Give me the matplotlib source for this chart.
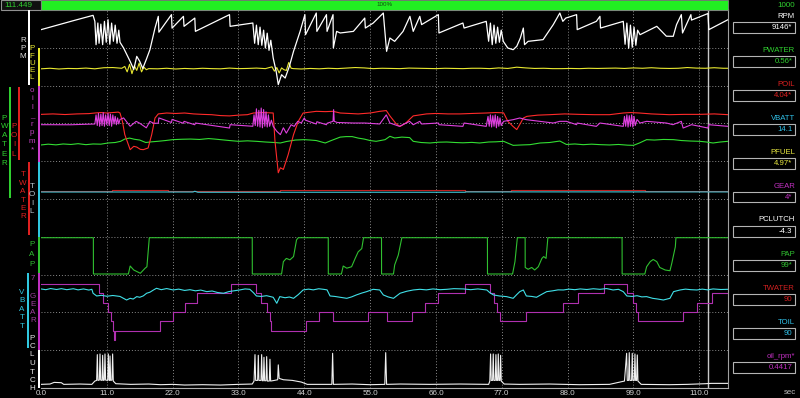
import matplotlib
matplotlib.use('Agg')
import matplotlib.pyplot as plt
from matplotlib.patches import Rectangle

plt.rcParams['font.family'] = ['Liberation Sans', 'DejaVu Sans']

W, H = 800, 398
AX_L, AX_R, AX_TOP, AX_BOT = 41, 728, 10, 388
T_END = 114.8
CURSOR = 111.449
TICKS = [0, 11, 22, 33, 44, 55, 66, 77, 88, 99, 110]

# ---- channel data (time in sec, value) ----
RPM = [(0, 7550), (2.0, 7880), (5.4, 8440), (8.7, 8970), (9.0, 8375), (9.2, 6060), (9.5, 8210),
       (9.7, 6200), (10.0, 8100), (10.3, 6060), (10.6, 8375), (10.9, 6300), (11.2, 8540),
       (11.5, 6100), (11.8, 8200), (12.1, 6400), (12.4, 8000), (12.7, 6200), (13.0, 7500),
       (13.2, 6300), (13.8, 5730), (14.9, 4400), (15.5, 3600), (16.0, 4900), (16.5, 4400),
       (17.0, 3700), (17.6, 4600), (18.2, 5560), (19.05, 7710), (19.6, 8870), (19.7, 7300),
       (21.8, 9040), (21.9, 7700), (23.8, 8870), (23.9, 7880), (25.7, 8700), (25.8, 7380),
       (31.5, 9040), (31.6, 7880), (35.4, 8210), (35.7, 6200), (36.0, 8000), (36.3, 6060),
       (36.6, 7800), (36.9, 6000), (37.2, 7500), (37.5, 5730), (37.8, 7200), (38.1, 5500),
       (38.4, 6500), (38.8, 4740), (39.3, 3400), (39.65, 2100), (40.2, 3080), (40.8, 2750),
       (41.5, 3910), (42.2, 5400), (43.3, 7380), (44.1, 9040), (44.2, 7050), (46.0, 9200),
       (46.1, 7380), (47.7, 9040), (47.8, 7380), (48.8, 9040), (48.85, 5730), (49.4, 7380),
       (50.0, 7220), (52.2, 7380), (54.1, 8700), (54.2, 7710), (55.5, 8200), (57.2, 9200),
       (57.75, 5400), (58.3, 6720), (59.1, 6390), (60.5, 7380), (61.65, 8870), (62.2, 7380),
       (63.3, 8870), (63.6, 8050), (66.4, 9040), (66.5, 7220), (70.5, 8210), (70.7, 7710),
       (74.4, 8375), (74.8, 6400), (75.1, 8200), (75.4, 6060), (75.7, 8000), (76.0, 6200),
       (76.3, 7800), (76.6, 6300), (76.9, 7500), (77.25, 6390), (78.0, 5730), (78.9, 5560),
       (79.5, 5900), (80.1, 6720), (80.6, 7710), (80.8, 6060), (81.4, 6390), (83.9, 6560),
       (85.6, 8050), (86.7, 9200), (87.2, 8375), (87.7, 8700), (89.5, 9040), (89.6, 7550),
       (92.8, 8375), (93.4, 8870), (93.5, 7710), (97.3, 8375), (97.6, 6100), (97.9, 8200),
       (98.2, 5700), (98.5, 8000), (98.8, 5800), (99.1, 7800), (99.4, 6000), (99.7, 7500),
       (100.1, 7050), (101.2, 7380), (102.9, 7880), (104.5, 6900), (105.65, 6890),
       (106.2, 8050), (107.0, 9040), (107.2, 7220), (108.6, 9040), (108.7, 8500),
       (111.45, 9150), (111.6, 7550), (114.8, 8540)]

PFUEL = [(0, 4.75), (1.5, 4.9), (3, 4.7), (4.5, 4.85), (6, 4.8), (7.5, 4.95), (9, 4.75),
         (10.5, 5.05), (12, 5.1), (13.5, 4.9), (14.0, 5.4), (14.4, 3.9), (14.8, 6.0), (15.2, 3.4),
         (15.6, 5.6), (16.0, 4.3), (16.4, 6.3), (16.8, 3.9), (17.2, 5.2), (17.6, 4.5), (18.0, 4.8),
         (19.5, 4.75), (21, 4.9), (22.5, 4.7), (24, 4.85), (25.5, 4.75), (27, 4.9), (28.5, 4.8),
         (30, 4.75), (31.5, 4.95), (33, 4.8), (34.5, 4.85), (36, 4.95), (37.5, 4.8), (38.6, 5.3),
         (39.0, 4.1), (39.4, 5.1), (39.8, 3.6), (40.2, 5.0), (40.6, 4.5), (41.0, 4.3), (41.4, 6.5),
         (41.8, 4.9), (42.2, 4.8), (43.5, 4.7), (45, 4.85), (46.5, 4.75), (48, 4.9), (49.5, 4.8),
         (51, 4.95), (52.5, 5.1), (54, 5.0), (55.5, 4.8), (57, 4.9), (58.5, 4.85), (60, 4.8),
         (61.5, 4.95), (63, 4.9), (64.5, 4.85), (66, 4.8), (67.5, 4.9), (69, 4.85), (70.5, 4.8),
         (72, 4.9), (73.5, 4.9), (75, 4.8), (76.5, 5.0), (78, 4.85), (79.5, 5.2), (81, 5.0),
         (82.5, 4.85), (84, 4.9), (85.5, 4.8), (87, 4.8), (88.5, 4.85), (90, 4.8), (91.5, 4.9),
         (93, 4.85), (94.5, 4.9), (96, 4.95), (97.5, 4.85), (99, 5.0), (100.5, 4.9), (102, 5.05),
         (103.5, 4.9), (105, 4.85), (106.5, 4.9), (108, 5.1), (109.5, 4.95), (111, 4.9),
         (112.5, 5.05), (114, 4.9), (114.8, 4.9)]

OIL_RPM = [(0, 0.491), (5, 0.49), (9, 0.50), (9.2, 0.62), (9.4, 0.48), (9.6, 0.64), (9.8, 0.47),
           (10.0, 0.63), (10.2, 0.48), (10.4, 0.65), (10.6, 0.47), (10.8, 0.62), (11.0, 0.49),
           (11.2, 0.64), (11.4, 0.48), (11.6, 0.63), (11.8, 0.47), (12.0, 0.62), (12.2, 0.50),
           (12.4, 0.60), (12.6, 0.49), (12.8, 0.58), (13.0, 0.50), (13.2, 0.56), (13.8, 0.58),
           (14.9, 0.47), (15.9, 0.535), (16.5, 0.51), (17.6, 0.45), (18.2, 0.535), (18.8, 0.51),
           (19.6, 0.51), (19.7, 0.58), (21.8, 0.52), (21.9, 0.56), (23.8, 0.51), (23.9, 0.535),
           (25.7, 0.49), (25.8, 0.513), (31.5, 0.447), (31.6, 0.491), (35.4, 0.47), (35.6, 0.62),
           (35.8, 0.48), (36.0, 0.70), (36.2, 0.47), (36.4, 0.68), (36.6, 0.46), (36.8, 0.71),
           (37.0, 0.45), (37.2, 0.69), (37.4, 0.47), (37.6, 0.66), (37.8, 0.46), (38.0, 0.62),
           (38.2, 0.47), (38.5, 0.55), (38.8, 0.469), (39.4, 0.404), (40.0, 0.36), (40.5, 0.45),
           (41.0, 0.38), (41.8, 0.49), (42.3, 0.469), (42.9, 0.535), (43.5, 0.513), (44.0, 0.579),
           (44.2, 0.55), (46.0, 0.50), (46.1, 0.53), (47.7, 0.49), (47.8, 0.51), (48.8, 0.535),
           (48.9, 0.689), (49.0, 0.535), (49.5, 0.52), (52.2, 0.513), (54.1, 0.513), (56.6, 0.50),
           (57.7, 0.62), (58.3, 0.513), (59.9, 0.469), (61.6, 0.535), (62.2, 0.49), (63.3, 0.535),
           (63.6, 0.50), (66.4, 0.513), (66.5, 0.491), (70.5, 0.469), (70.7, 0.513), (74.4, 0.469),
           (74.7, 0.60), (74.9, 0.47), (75.1, 0.62), (75.3, 0.46), (75.5, 0.61), (75.7, 0.47),
           (75.9, 0.62), (76.1, 0.45), (76.3, 0.60), (76.5, 0.47), (76.7, 0.58), (76.9, 0.48),
           (77.3, 0.535), (78.9, 0.557), (80.0, 0.579), (81.1, 0.557), (85.6, 0.513), (86.7, 0.535),
           (87.8, 0.535), (89.5, 0.491), (89.6, 0.513), (92.8, 0.469), (93.4, 0.513), (97.3, 0.469),
           (97.5, 0.60), (97.7, 0.47), (97.9, 0.62), (98.1, 0.46), (98.3, 0.61), (98.5, 0.47),
           (98.7, 0.62), (98.9, 0.46), (99.1, 0.60), (99.3, 0.48), (99.6, 0.56), (100.1, 0.513),
           (101.2, 0.535), (104.5, 0.513), (105.6, 0.491), (107.0, 0.535), (107.3, 0.447),
           (108.7, 0.491), (111.45, 0.447), (111.6, 0.491), (114.8, 0.469)]

POIL = [(0, 4.00), (2, 4.03), (4, 3.99), (6, 4.03), (8, 4.05), (9, 4.09), (10, 4.12), (11, 4.09),
        (12, 4.12), (12.9, 4.15), (13.2, 4.09), (13.6, 3.55), (14.0, 2.67), (14.9, 1.68),
        (15.5, 1.90), (16.0, 1.85), (16.6, 1.70), (17.1, 1.68), (17.9, 1.79), (18.5, 2.67),
        (19.05, 3.76), (19.6, 4.03), (21, 4.09), (22.5, 4.06), (24, 4.09), (25.5, 4.03), (27, 4.0),
        (28.5, 3.98), (30, 3.92), (31.5, 3.90), (33, 3.95), (34.5, 3.98), (35.5, 4.09), (37, 4.12),
        (38.8, 4.09), (39.1, 2.23), (39.65, 0.16), (40.0, 0.49), (40.5, 0.38), (41.3, 1.35),
        (42.2, 2.67), (43.0, 3.55), (43.8, 4.09), (45, 4.15), (46, 4.20), (47.5, 4.18), (48.8, 4.20),
        (50, 4.09), (51.5, 4.06), (53, 4.03), (55, 4.09), (56.6, 4.20), (57.7, 4.25), (58.3, 3.9),
        (59.3, 3.4), (60.0, 3.2), (61.0, 3.45), (62.2, 3.9), (64.4, 4.03), (66, 4.06), (68, 4.03),
        (70, 4.03), (72, 4.06), (74.4, 4.09), (76, 4.12), (77.3, 4.10), (78.0, 3.55), (78.9, 3.20),
        (79.5, 3.00), (80.1, 3.40), (80.6, 3.76), (81.2, 3.87), (83, 3.95), (85, 3.98),
        (87.5, 4.03), (90, 4.0), (92.5, 3.98), (95, 3.98), (97.3, 4.09), (98.5, 4.12), (100, 4.09),
        (102, 4.03), (105, 3.98), (107.5, 4.0), (110, 4.0), (112.5, 4.03), (114.8, 3.98)]

PWATER = [(0, 0.54), (1.2, 0.548), (2.5, 0.541), (3.7, 0.55), (5.0, 0.545), (6.2, 0.553),
          (7.5, 0.543), (8.7, 0.55), (10.0, 0.548), (11.2, 0.56), (12.4, 0.565), (13.3, 0.577),
          (14.0, 0.60), (14.8, 0.61), (15.6, 0.598), (16.5, 0.59), (17.5, 0.565), (18.5, 0.572),
          (19.5, 0.577), (20.8, 0.585), (22.0, 0.594), (23.5, 0.598), (25.0, 0.60), (26.5, 0.596),
          (28.0, 0.605), (29.0, 0.60), (30.0, 0.594), (31.5, 0.585), (33.0, 0.577), (34.5, 0.582),
          (36.0, 0.577), (37.5, 0.57), (39.0, 0.565), (40.0, 0.56), (41.0, 0.575), (42.5, 0.59),
          (44.0, 0.594), (45.0, 0.59), (46.0, 0.585), (47.5, 0.56), (48.5, 0.585), (50.0, 0.62),
          (51.0, 0.625), (52.0, 0.625), (53.0, 0.61), (54.0, 0.60), (55.0, 0.585), (56.0, 0.577),
          (57.5, 0.594), (58.3, 0.628), (59.1, 0.611), (60.3, 0.62), (61.6, 0.615), (62.2, 0.577),
          (63.5, 0.565), (65.0, 0.56), (66.4, 0.568), (67.8, 0.57), (69.2, 0.565), (70.5, 0.562),
          (72.0, 0.566), (73.3, 0.56), (74.8, 0.57), (76.0, 0.572), (77.3, 0.577), (78.9, 0.536),
          (80.3, 0.54), (81.7, 0.543), (83.4, 0.56), (85.0, 0.565), (86.7, 0.58), (87.8, 0.545),
          (89.2, 0.55), (90.6, 0.543), (92.0, 0.548), (93.5, 0.543), (95.0, 0.54), (96.5, 0.545),
          (98.0, 0.538), (99.0, 0.536), (100.0, 0.56), (101.2, 0.594), (102.5, 0.59), (104.0, 0.596),
          (105.7, 0.594), (107.0, 0.585), (108.5, 0.58), (110.1, 0.577), (111.2, 0.57),
          (112.3, 0.56), (113.5, 0.57), (114.8, 0.577)]

TWATER = [(0, 90), (11.8, 92.5), (21.3, 90), (40.0, 92.5), (70.9, 90), (78.5, 92.5), (101.0, 90),
          (114.8, 90)]
TOIL = [(0, 90), (25.4, 90), (25.7, 91.5), (26.2, 89.5), (70.9, 89.5), (71.0, 90.2), (114.8, 90.2)]

PAP = [(0, 100), (8.75, 100), (8.76, 0), (14.6, 0), (14.9, 22), (15.5, 11), (16.6, 2), (17.4, 16),
       (17.7, 20), (18.1, 100), (35.3, 100), (35.31, 0), (40.2, 0), (40.5, 34), (41.0, 43),
       (41.6, 39), (42.2, 48), (42.7, 94), (43.0, 100), (48.0, 100), (48.01, 0), (50.2, 0),
       (50.5, 22), (51.1, 16), (51.9, 20), (52.5, 43), (53.0, 61), (53.6, 70), (53.9, 100),
       (56.9, 100), (56.91, 0), (58.9, 0), (59.1, 25), (59.7, 52), (60.3, 100), (74.6, 100),
       (74.61, 0), (78.8, 0), (79.2, 34), (79.6, 100), (80.9, 100), (80.91, 18), (81.4, 13),
       (82.0, 18), (82.5, 11), (83.1, 20), (83.7, 43), (84.0, 48), (84.4, 43), (84.7, 100),
       (97.1, 100), (97.11, 0), (100.9, 0), (101.2, 20), (101.8, 34), (102.3, 40), (102.9, 34),
       (103.4, 18), (104.3, 11), (105.1, 9), (105.4, 29), (106.0, 75), (106.1, 100), (114.8, 100)]

VBATT = [(0, 14.30), (0.8, 14.22), (1.6, 14.34), (2.6, 14.24), (3.4, 14.33), (4.3, 14.22),
         (5.4, 14.32), (6.2, 14.20), (7.1, 14.30), (8.0, 14.18), (8.5, 14.26), (8.7, 13.84),
         (9.3, 13.55), (10.1, 13.62), (11.0, 13.52), (12.0, 13.60), (13.2, 13.50), (14.3, 13.12),
         (14.9, 13.30), (15.4, 13.22), (16.0, 13.48), (16.5, 13.41), (17.1, 13.56), (17.65, 13.84),
         (18.2, 13.95), (18.8, 14.19), (19.3, 14.37), (20.1, 14.22), (21.0, 14.34), (22.1, 14.19),
         (23.0, 14.28), (24.0, 14.14), (24.9, 14.22), (25.8, 14.10), (26.7, 14.18), (27.7, 14.01),
         (28.6, 14.08), (29.5, 13.92), (30.5, 13.84), (31.4, 14.02), (32.3, 14.10), (33.2, 14.19),
         (34.1, 14.30), (34.9, 14.26), (35.5, 13.90), (36.0, 13.55), (36.8, 13.50), (37.7, 13.58),
         (38.8, 13.41), (39.4, 12.77), (39.9, 13.48), (40.8, 13.36), (41.5, 13.44), (42.2, 13.30),
         (43.0, 13.70), (43.8, 14.19), (44.7, 14.28), (45.5, 14.20), (46.4, 14.32), (47.2, 14.26),
         (47.8, 14.20), (48.3, 13.55), (49.1, 13.50), (50.0, 13.41), (51.1, 13.30), (51.9, 13.45),
         (52.7, 13.66), (53.6, 13.86), (54.4, 14.01), (55.5, 14.26), (56.6, 14.19), (57.2, 13.66),
         (58.0, 13.45), (58.9, 13.30), (60.0, 13.84), (61.1, 14.05), (62.2, 14.19), (63.3, 14.26),
         (64.4, 14.20), (65.5, 14.30), (66.7, 14.22), (67.8, 14.26), (69.0, 14.33), (70.6, 14.30),
         (71.8, 14.22), (73.0, 14.30), (74.5, 14.19), (75.0, 13.90), (75.6, 13.66), (76.6, 13.55),
         (77.8, 13.48), (78.9, 13.30), (79.5, 13.70), (80.0, 14.01), (80.6, 14.19), (81.1, 13.55),
         (82.0, 13.50), (82.8, 13.41), (83.6, 13.70), (84.5, 14.01), (85.5, 14.10), (86.4, 14.20),
         (87.3, 14.19), (88.2, 14.28), (89.2, 14.22), (90.1, 14.30), (91.2, 14.24), (92.3, 14.32),
         (93.4, 14.26), (94.5, 14.34), (95.6, 14.19), (96.5, 14.26), (97.3, 14.01), (97.9, 13.55),
         (98.8, 13.50), (99.6, 13.58), (100.4, 13.45), (101.2, 13.48), (102.2, 13.30),
         (103.1, 13.22), (104.0, 13.12), (105.1, 13.30), (105.7, 14.01), (106.8, 14.19),
         (107.7, 14.28), (108.6, 14.22), (109.6, 14.19), (110.5, 14.28), (111.4, 14.20),
         (112.3, 14.30), (113.6, 14.24), (114.8, 14.26)]

GEAR = [(0, 6), (9.75, 5), (10.4, 4), (11.25, 3), (11.64, 2), (12.09, 1), (12.2, 0), (12.35, 1),
        (19.88, 2), (22.1, 3), (24.1, 4), (26.0, 5), (31.7, 6), (35.9, 5), (36.7, 4), (37.7, 3),
        (38.3, 2), (38.5, 1), (44.2, 2), (46.4, 3), (48.8, 2), (54.7, 3), (57.75, 2), (62.04, 3),
        (64.16, 4), (66.39, 5), (70.84, 6), (75.1, 5), (75.69, 4), (76.25, 3), (76.64, 2),
        (80.98, 3), (87.16, 4), (89.78, 5), (94.07, 6), (97.86, 5), (98.97, 4), (99.4, 3),
        (99.8, 2), (107.3, 3), (109.55, 4), (112.06, 5), (114.8, 5)]

PCLUTCH = [(0, -4), (1.5, -3), (2.2, 2), (3.4, 1), (3.8, -4), (6.5, -3), (8.5, -4), (9.0, 6),
           (9.3, 8), (9.41, 86), (9.52, 8), (9.75, 9), (9.86, 88), (9.97, 9), (10.2, 8), (10.3, 84),
           (10.41, 8), (10.58, 9), (10.69, 88), (10.8, 9), (11.14, 8), (11.25, 88), (11.36, 9),
           (11.45, 8), (11.53, 82), (11.64, 8), (11.86, 9), (11.97, 88), (12.08, 6), (12.5, -2),
           (15, -4), (18, -3), (20, -5), (22, -4), (24, -6), (27, -5), (30, -6), (33, -4),
           (35.3, -3), (35.6, 6), (35.76, 86), (35.87, 8), (36.2, 8), (36.31, 84), (36.42, 8),
           (36.76, 8), (36.87, 86), (36.98, 7), (37.15, 7), (37.26, 78), (37.37, 7), (37.6, 7),
           (37.71, 80), (37.82, 6), (38.15, 6), (38.26, 72), (38.37, 6), (39.0, 8), (39.55, 10),
           (39.65, 55), (39.8, 14), (40.5, 10), (42, 8), (43.5, 3), (44.5, -4), (48.6, -4),
           (48.73, 90), (48.86, -4), (52, -3), (55, -5), (57.45, -4), (57.6, 92), (57.75, -4),
           (60, -3), (65, -4), (70, -3), (74.8, -4), (75.0, 6), (75.13, 88), (75.24, 8),
           (75.46, 8), (75.57, 88), (75.68, 8), (75.91, 8), (76.02, 86), (76.13, 8), (76.3, 8),
           (76.41, 88), (76.52, 8), (76.69, 8), (76.8, 84), (76.91, 6), (77.4, -3), (80, -4),
           (85, -3), (90, -5), (95, -4), (97.5, 6), (97.86, 90), (97.97, 8), (98.19, 8),
           (98.3, 92), (98.41, 8), (98.69, 8), (98.8, 90), (98.91, 8), (99.14, 8), (99.25, 88),
           (99.36, 8), (99.53, 8), (99.64, 85), (99.75, 6), (100.3, -4), (105, -5), (108, -4),
           (111, -2), (112, -1), (114.8, -1)]

# right-hand readout at the cursor
READOUT = [('RPM', '#ffffff', '9146*'), ('PWATER', '#30d030', '0.56*'), ('POIL', '#e02020', '4.04*'),
           ('VBATT', '#30c0e8', '14.1'), ('PFUEL', '#e8e840', '4.97*'), ('GEAR', '#c030c0', '4*'),
           ('PCLUTCH', '#ffffff', '-4.3'), ('PAP', '#30c030', '99*'), ('TWATER', '#d02020', '90'),
           ('TOIL', '#30c0e8', '90'), ('oil_rpm*', '#c030c0', '0.4417')]

fig = plt.figure(figsize=(8, 3.98), dpi=100, facecolor='black')


def fx(px):
    return px / W


def fy(py):
    return 1 - py / H


RECT = [fx(AX_L), fy(AX_BOT), (AX_R - AX_L) / W, (AX_BOT - AX_TOP) / H]

ax = fig.add_axes(RECT)
ax.set_facecolor('black')
ax.set_xlim(0, T_END)
ax.set_ylim(0, 10)
for t in TICKS[1:]:
    ax.axvline(t, color='#8a8a8a', lw=0.7, ls=(0, (1, 2)))
for d in range(1, 10):
    ax.axhline(d, color='#8a8a8a', lw=0.7, ls=(0, (1, 2)))
ax.axvline(CURSOR, color='#c8c8c8', lw=1.0, zorder=50)
ax.set_yticks([])
ax.set_xticks(TICKS)
ax.set_xticklabels(['%.1f' % t for t in TICKS], color='#d0d0d0', fontsize=5.8)
ax.tick_params(axis='x', length=0, pad=1.5)
for s in ['left']:
    ax.spines[s].set_visible(False)
ax.spines['top'].set_color('#8c8c8c')
ax.spines['top'].set_linewidth(1.5)
ax.spines['right'].set_color('#a0a0a0')
ax.spines['bottom'].set_color('#b0b0b0')


def band_lim(vlo, vhi, top, bot):
    # vhi sits on pixel row top, vlo on row bot
    per = (vhi - vlo) / (bot - top)
    return vlo - (AX_BOT - bot) * per, vhi + (top - AX_TOP) * per


def channel(pairs, vlo, vhi, top, bot, color, lw=0.8, step=False):
    a = fig.add_axes(RECT, sharex=ax)
    a.patch.set_visible(False)
    a.axis('off')
    t = [p[0] for p in pairs]
    v = [p[1] for p in pairs]
    a.plot(t, v, color=color, lw=lw, drawstyle='steps-post' if step else 'default')
    a.set_ylim(*band_lim(vlo, vhi, top, bot))
    a.set_xlim(0, T_END)


channel(TWATER, 0, 150, 162, 235, '#c02020', step=True)
channel(TOIL, 0, 150, 162, 237, '#40c8d8')
channel(PAP, 0, 100, 237.7, 274, '#30c030')
channel(GEAR, -1.07, 7.17, 273, 350, '#b030b0', step=True)
channel(VBATT, 8, 16, 273, 348, '#40e0e8')
channel(PCLUTCH, -15, 100, 350, 388, '#f0f0f0')
channel(PWATER, 0, 1.13, 87, 198, '#33dd33')
channel(POIL, 1.0, 5.8, 87, 160, '#ff2a2a')
channel(OIL_RPM, 0, 1, 86, 162, '#e040e0')
channel(PFUEL, 0, 10.5, 48, 86, '#e8e830')
channel(RPM, 2000, 9500, 10, 85.6, '#ffffff', lw=0.9)

# ---- top strip ----
fig.patches.append(Rectangle((fx(0.5), fy(10)), 40 / W, 9.5 / H, transform=fig.transFigure,
                             facecolor='#101010', edgecolor='#909090', lw=0.8))
fig.text(fx(4), fy(5.2), '111.449', color='#30d030', fontsize=5.8, va='center', ha='left')
fig.patches.append(Rectangle((fx(AX_L), fy(9.5)), (AX_R - AX_L) / W, 9 / H, transform=fig.transFigure,
                             facecolor='#22ee22', edgecolor='#808080', lw=0.6))
fig.text(fx(385), fy(5), '100%', color='#105010', fontsize=4.5, va='center', ha='center')
fig.text(fx(795), fy(5.5), '1000', color='#30d030', fontsize=5.8, va='center', ha='right')

# ---- left scale bars and stacked names ----
BARS = [(29, 10, 85, '#ffffff'), (39, 48, 86, '#e8e830'), (39, 86, 162, '#d040d0'),
        (10, 87, 198, '#30d030'), (19, 87, 160, '#e02020'), (29, 162, 235, '#e02020'),
        (39, 162, 237, '#30c8e0'), (39, 237, 273, '#30c030'), (28, 273, 348, '#30c8e0'),
        (39, 273, 350, '#c030c0'), (39, 350, 388, '#ffffff')]
for x, top, bot, c in BARS:
    fig.patches.append(Rectangle((fx(x - 1.2), fy(bot)), 2.4 / W, (bot - top) / H,
                                 transform=fig.transFigure, facecolor=c, edgecolor='none'))

NAMES = [('RPM', 23, 40, 8.5, '#e0e0e0'), ('PFUEL', 32, 49, 7.2, '#e8e830'),
         ('oil_rpm*', 32, 90, 8.6, '#c040c0'), ('PWATER', 4.5, 118, 9, '#30d030'),
         ('POIL', 14, 127, 9, '#e02020'), ('TWATER', 23, 175, 8.4, '#e02020'),
         ('TOIL', 32, 186, 8.6, '#b8c8d0'), ('PAP', 32, 245, 10, '#30c030'),
         ('VBATT', 22, 292, 8.6, '#30c8e0'), ('GEAR', 33, 296, 8, '#a040a0'),
         ('7', 33, 278, 8, '#a040a0'), ('PCLUTCH', 32, 338, 8.5, '#e8e8e8')]
for name, x, y0, dy, c in NAMES:
    for i, ch in enumerate(name):
        fig.text(fx(x), fy(y0 + i * dy), ch, color=c, fontsize=5.8, ha='center', va='center')

# ---- right readout ----
for i, (name, c, val) in enumerate(READOUT):
    y = 16 + 34 * i
    fig.text(fx(795), fy(y), name, color=c, fontsize=5.6, ha='right', va='center')
    fig.patches.append(Rectangle((fx(732.5), fy(y + 16.5)), 62.5 / W, 10.5 / H,
                                 transform=fig.transFigure, facecolor='black',
                                 edgecolor='#b4b4b4', lw=0.8))
    fig.text(fx(792.5), fy(y + 11.3), val, color=c, fontsize=5.6, ha='right', va='center')
fig.text(fx(790), fy(393), 'sec', color='#c0c0c0', fontsize=5.6, ha='center', va='center')

fig.savefig('out.png', dpi=100, facecolor='black')
